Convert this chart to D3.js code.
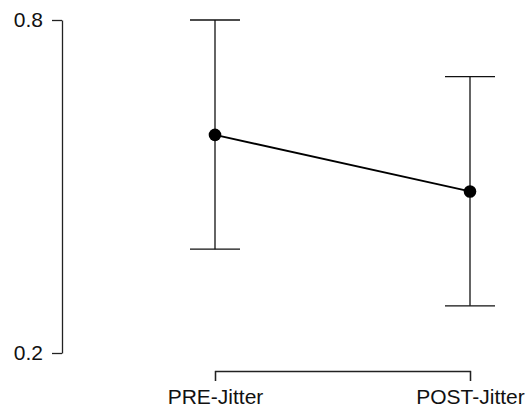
<!DOCTYPE html>
<html>
<head>
<meta charset="utf-8">
<script src="https://cdn.jsdelivr.net/npm/d3@7"></script>
<style>
  body { margin: 0; background: #fff; }
  text { font-family: "Liberation Sans", Arial, sans-serif; }
</style>
</head>
<body>
<div id="chart"></div>
<script>
// values
var conditions = ["PRE-Jitter", "POST-Jitter"];
var means = [0.593, 0.491];
var lower = [0.387, 0.285];
var upper = [0.800, 0.698];
var yTicks = [0.2, 0.8];

var width = 531, height = 410;
var svg = d3.select("#chart").append("svg")
  .attr("width", width)
  .attr("height", height);

var x = d3.scalePoint()
  .domain(conditions)
  .range([215, 470])
  .padding(0);

var y = d3.scaleLinear()
  .domain([0.2, 0.8])
  .range([353, 20]);

// y axis
var yAxis = svg.append("g")
  .attr("transform", "translate(62,0)")
  .call(d3.axisLeft(y)
    .tickValues(yTicks)
    .tickFormat(d3.format(".1f"))
    .tickSizeInner(10)
    .tickSizeOuter(0)
    .tickPadding(9));

// x axis bracket
var xAxis = svg.append("g")
  .attr("transform", "translate(0,371)")
  .call(d3.axisBottom(x)
    .tickSizeInner(10)
    .tickSizeOuter(10)
    .tickPadding(8));

[yAxis, xAxis].forEach(function(ax) {
  ax.selectAll("path, line").attr("stroke", "#222").attr("stroke-width", 1.3);
  ax.selectAll("text")
    .attr("fill", "#111")
    .style("font-size", "21px")
    .style("font-family", "'Liberation Sans', Arial, sans-serif");
});

var data = conditions.map(function(c, i) {
  return {name: c, mean: means[i], lo: lower[i], hi: upper[i]};
});

var capW = 25;
var bars = svg.append("g");
data.forEach(function(d) {
  var cx = x(d.name);
  bars.append("line")
    .attr("x1", cx).attr("x2", cx)
    .attr("y1", y(d.hi)).attr("y2", y(d.lo))
    .attr("stroke", "#111").attr("stroke-width", 1.3);
  [d.hi, d.lo].forEach(function(v) {
    bars.append("line")
      .attr("x1", cx - capW).attr("x2", cx + capW)
      .attr("y1", y(v)).attr("y2", y(v))
      .attr("stroke", "#111").attr("stroke-width", 1.3);
  });
});

var line = d3.line()
  .x(function(d) { return x(d.name); })
  .y(function(d) { return y(d.mean); });

svg.append("path")
  .datum(data)
  .attr("fill", "none")
  .attr("stroke", "#000")
  .attr("stroke-width", 1.8)
  .attr("d", line);

svg.selectAll(".pt")
  .data(data)
  .enter().append("circle")
    .attr("class", "pt")
    .attr("cx", function(d) { return x(d.name); })
    .attr("cy", function(d) { return y(d.mean); })
    .attr("r", 6.3)
    .attr("fill", "#000");
</script>
</body>
</html>
